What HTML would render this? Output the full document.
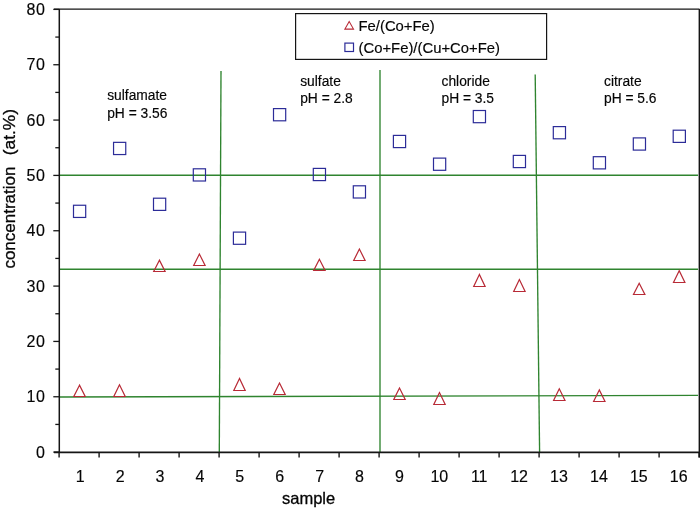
<!DOCTYPE html><html><head><meta charset="utf-8"><style>html,body{margin:0;padding:0;background:#fff;width:700px;height:510px;overflow:hidden}svg{display:block;will-change:transform}text{font-family:"Liberation Sans",sans-serif;fill:#050505;stroke:#050505;stroke-width:0.15px}</style></head><body>
<svg width="700" height="510" viewBox="0 0 700 510">
<rect width="700" height="510" fill="#fff"/>
<g stroke="#2f842f" stroke-width="1.35" fill="none">
<line x1="59" y1="175.2" x2="698" y2="175.2"/>
<line x1="59" y1="269.2" x2="698" y2="269.2"/>
<line x1="59" y1="397" x2="698" y2="395.4"/>
<line x1="221" y1="71" x2="219.3" y2="452"/>
<line x1="380" y1="70" x2="380" y2="452"/>
<line x1="535.2" y1="74.4" x2="539.6" y2="452"/>
</g>
<g stroke="#151515" fill="none">
<line x1="59.3" y1="9" x2="59.3" y2="452" stroke-width="1.5"/>
<line x1="54" y1="452.3" x2="699.5" y2="452.3" stroke-width="1.7"/>
<line x1="54" y1="9.1" x2="699.5" y2="9.1" stroke-width="1.4"/>
<line x1="699.3" y1="9" x2="699.3" y2="457.5" stroke-width="1.4"/>
<line x1="53.3" y1="452.10" x2="59.3" y2="452.10" stroke-width="1.3"/>
<line x1="55.3" y1="424.43" x2="59.3" y2="424.43" stroke-width="1.3"/>
<line x1="53.3" y1="396.76" x2="59.3" y2="396.76" stroke-width="1.3"/>
<line x1="55.3" y1="369.09" x2="59.3" y2="369.09" stroke-width="1.3"/>
<line x1="53.3" y1="341.43" x2="59.3" y2="341.43" stroke-width="1.3"/>
<line x1="55.3" y1="313.76" x2="59.3" y2="313.76" stroke-width="1.3"/>
<line x1="53.3" y1="286.09" x2="59.3" y2="286.09" stroke-width="1.3"/>
<line x1="55.3" y1="258.42" x2="59.3" y2="258.42" stroke-width="1.3"/>
<line x1="53.3" y1="230.75" x2="59.3" y2="230.75" stroke-width="1.3"/>
<line x1="55.3" y1="203.08" x2="59.3" y2="203.08" stroke-width="1.3"/>
<line x1="53.3" y1="175.41" x2="59.3" y2="175.41" stroke-width="1.3"/>
<line x1="55.3" y1="147.74" x2="59.3" y2="147.74" stroke-width="1.3"/>
<line x1="53.3" y1="120.07" x2="59.3" y2="120.07" stroke-width="1.3"/>
<line x1="55.3" y1="92.41" x2="59.3" y2="92.41" stroke-width="1.3"/>
<line x1="53.3" y1="64.74" x2="59.3" y2="64.74" stroke-width="1.3"/>
<line x1="55.3" y1="37.07" x2="59.3" y2="37.07" stroke-width="1.3"/>
<line x1="53.3" y1="9.40" x2="59.3" y2="9.40" stroke-width="1.3"/>
<line x1="59.10" y1="452" x2="59.10" y2="457.5" stroke-width="1.4"/>
<line x1="99.10" y1="452" x2="99.10" y2="457.5" stroke-width="1.4"/>
<line x1="139.10" y1="452" x2="139.10" y2="457.5" stroke-width="1.4"/>
<line x1="179.10" y1="452" x2="179.10" y2="457.5" stroke-width="1.4"/>
<line x1="219.10" y1="452" x2="219.10" y2="457.5" stroke-width="1.4"/>
<line x1="259.10" y1="452" x2="259.10" y2="457.5" stroke-width="1.4"/>
<line x1="299.10" y1="452" x2="299.10" y2="457.5" stroke-width="1.4"/>
<line x1="339.10" y1="452" x2="339.10" y2="457.5" stroke-width="1.4"/>
<line x1="379.10" y1="452" x2="379.10" y2="457.5" stroke-width="1.4"/>
<line x1="419.10" y1="452" x2="419.10" y2="457.5" stroke-width="1.4"/>
<line x1="459.10" y1="452" x2="459.10" y2="457.5" stroke-width="1.4"/>
<line x1="499.10" y1="452" x2="499.10" y2="457.5" stroke-width="1.4"/>
<line x1="539.10" y1="452" x2="539.10" y2="457.5" stroke-width="1.4"/>
<line x1="579.10" y1="452" x2="579.10" y2="457.5" stroke-width="1.4"/>
<line x1="619.10" y1="452" x2="619.10" y2="457.5" stroke-width="1.4"/>
<line x1="659.10" y1="452" x2="659.10" y2="457.5" stroke-width="1.4"/>
<line x1="699.10" y1="452" x2="699.10" y2="457.5" stroke-width="1.4"/>
</g>
<g font-size="16" text-anchor="end" letter-spacing="0.6" style="stroke-width:0.3px">
<text x="45.6" y="457.80">0</text>
<text x="45.6" y="402.46">10</text>
<text x="45.6" y="347.12">20</text>
<text x="45.6" y="291.79">30</text>
<text x="45.6" y="236.45">40</text>
<text x="45.6" y="181.11">50</text>
<text x="45.6" y="125.77">60</text>
<text x="45.6" y="70.44">70</text>
<text x="45.6" y="15.10">80</text>
</g>
<g font-size="16" text-anchor="middle" style="stroke-width:0.3px">
<text x="80.20" y="482">1</text>
<text x="120.10" y="482">2</text>
<text x="160.00" y="482">3</text>
<text x="199.90" y="482">4</text>
<text x="239.80" y="482">5</text>
<text x="279.70" y="482">6</text>
<text x="319.60" y="482">7</text>
<text x="359.50" y="482">8</text>
<text x="399.40" y="482">9</text>
<text x="439.30" y="482">10</text>
<text x="479.20" y="482">11</text>
<text x="519.10" y="482">12</text>
<text x="559.00" y="482">13</text>
<text x="598.90" y="482">14</text>
<text x="638.80" y="482">15</text>
<text x="678.70" y="482">16</text>
</g>
<text x="282" y="504" font-size="16.5" style="stroke-width:0.3px">sample</text>
<text transform="translate(14.7,268.6) rotate(-90)" font-size="17" style="stroke-width:0.3px">concentration</text>
<text transform="translate(14.7,155.2) rotate(-90)" font-size="17.3" style="stroke-width:0.3px">(at.%)</text>
<g font-size="13.8">
<text x="107.2" y="100">sulfamate</text><text x="107.2" y="117.7">pH = 3.56</text>
<text x="300.2" y="85.8">sulfate</text><text x="300.2" y="103.3">pH = 2.8</text>
<text x="441.5" y="85.8">chloride</text><text x="441.5" y="103.3">pH = 3.5</text>
<text x="604" y="85.8">citrate</text><text x="604" y="103.3">pH = 5.6</text>
</g>
<rect x="295.6" y="13.6" width="251" height="45.8" fill="#fff" stroke="#151515" stroke-width="1.2"/>
<polygon points="349.2,21.6 344.9,29.1 353.5,29.1" fill="none" stroke="#b82a36" stroke-width="1.1" stroke-linejoin="miter"/>
<rect x="344.9" y="43.1" width="8.6" height="8.4" fill="none" stroke="#2c2c98" stroke-width="1.2"/>
<g font-size="14.85"><text x="358.5" y="30.6">Fe/(Co+Fe)</text><text x="358.5" y="52.9">(Co+Fe)/(Cu+Co+Fe)</text></g>
<g fill="none" stroke="#2c2c98" stroke-width="1.2">
<rect x="73.50" y="205.25" width="12.20" height="12.20"/>
<rect x="113.55" y="142.35" width="12.20" height="12.20"/>
<rect x="153.50" y="198.20" width="12.20" height="12.20"/>
<rect x="193.30" y="168.80" width="12.20" height="12.20"/>
<rect x="233.40" y="232.10" width="12.20" height="12.20"/>
<rect x="273.50" y="108.60" width="12.20" height="12.20"/>
<rect x="313.30" y="168.40" width="12.20" height="12.20"/>
<rect x="353.30" y="185.80" width="12.20" height="12.20"/>
<rect x="393.40" y="135.40" width="12.20" height="12.20"/>
<rect x="433.50" y="158.10" width="12.20" height="12.20"/>
<rect x="473.30" y="110.50" width="12.20" height="12.20"/>
<rect x="513.30" y="155.40" width="12.20" height="12.20"/>
<rect x="553.30" y="126.60" width="12.20" height="12.20"/>
<rect x="593.30" y="156.70" width="12.20" height="12.20"/>
<rect x="633.30" y="137.90" width="12.20" height="12.20"/>
<rect x="673.20" y="130.20" width="12.20" height="12.20"/>
</g>
<g fill="none" stroke="#b82a36" stroke-width="1.2" stroke-linejoin="miter">
<polygon points="79.50,385.20 73.80,396.50 85.20,396.50"/>
<polygon points="119.50,384.80 113.80,396.50 125.20,396.50"/>
<polygon points="159.40,260.20 153.70,271.50 165.10,271.50"/>
<polygon points="199.40,254.10 193.70,265.50 205.10,265.50"/>
<polygon points="239.50,378.40 233.80,390.50 245.20,390.50"/>
<polygon points="279.50,383.00 273.80,394.50 285.20,394.50"/>
<polygon points="319.40,259.30 313.70,270.50 325.10,270.50"/>
<polygon points="359.40,249.00 353.70,260.50 365.10,260.50"/>
<polygon points="399.50,388.00 393.80,399.50 405.20,399.50"/>
<polygon points="439.50,392.60 433.80,404.50 445.20,404.50"/>
<polygon points="479.40,274.50 473.70,286.50 485.10,286.50"/>
<polygon points="519.40,279.60 513.70,291.50 525.10,291.50"/>
<polygon points="559.30,388.80 553.60,400.50 565.00,400.50"/>
<polygon points="599.30,389.90 593.60,401.50 605.00,401.50"/>
<polygon points="639.20,283.30 633.50,294.50 644.90,294.50"/>
<polygon points="679.20,270.70 673.50,282.50 684.90,282.50"/>
</g>
</svg></body></html>
